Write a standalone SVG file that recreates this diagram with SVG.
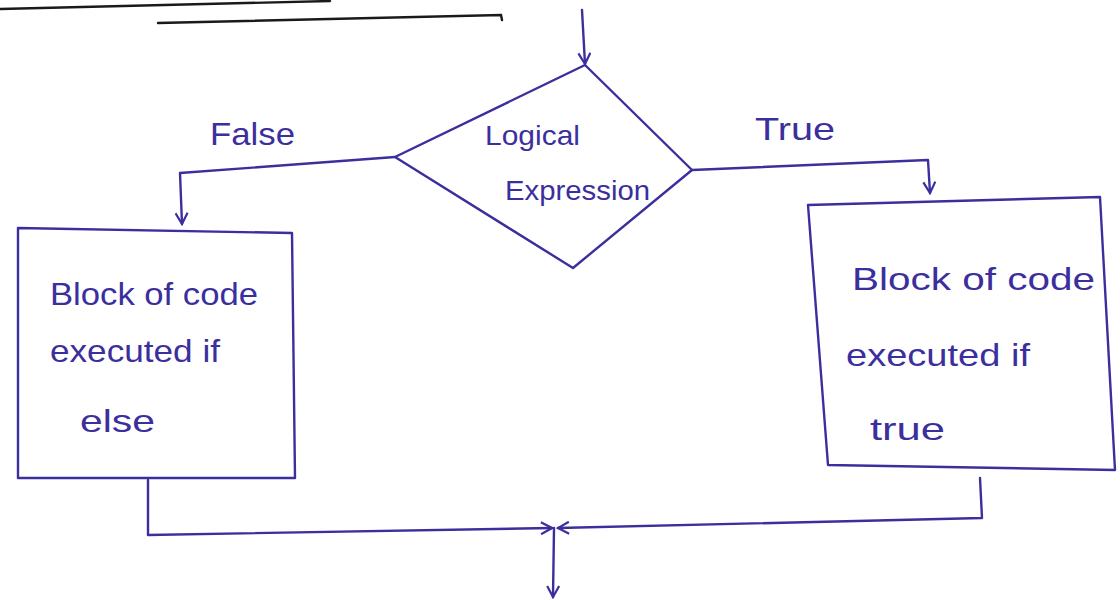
<svg xmlns="http://www.w3.org/2000/svg" width="1120" height="600" viewBox="0 0 1120 600">
<defs>
<style>
.ink{fill:none;stroke:#3b2f9e;stroke-width:2.4;stroke-linecap:round;stroke-linejoin:round}
.pen{fill:none;stroke:#1a1a1a;stroke-width:2.4;stroke-linecap:round}
.t{font-family:"Liberation Sans",Arial,sans-serif;font-size:32px;fill:#3b2f9e}
.ts{font-family:"Liberation Sans",Arial,sans-serif;font-size:28px;fill:#3b2f9e}
</style>
<marker id="ah" viewBox="0 0 14 14" refX="12" refY="7" markerWidth="14" markerHeight="14" markerUnits="userSpaceOnUse" orient="auto">
<path d="M1,1 L12,7 L1,13" fill="none" stroke="#3b2f9e" stroke-width="2.2"/>
</marker>
</defs>
<rect width="1120" height="600" fill="#ffffff"/>
<path class="pen" d="M0,9 L330,1"/>
<path class="pen" d="M158,23 L501,15 L502,20"/>
<g id="decision">
<path class="ink" d="M585,65 L692,170 L573,268 L395,157 Z"/>
<text class="ts" x="485" y="145" textLength="95" lengthAdjust="spacingAndGlyphs">Logical</text>
<text class="ts" x="505" y="200" textLength="145" lengthAdjust="spacingAndGlyphs">Expression</text>
</g>
<g id="else-block">
<path class="ink" d="M18,228 L292,233 L295,478 L18,478 Z"/>
<text class="t" x="50" y="305" textLength="208" lengthAdjust="spacingAndGlyphs">Block of code</text>
<text class="t" x="50" y="362" textLength="170" lengthAdjust="spacingAndGlyphs">executed if</text>
<text class="t" x="80" y="432" textLength="75" lengthAdjust="spacingAndGlyphs">else</text>
</g>
<g id="true-block">
<path class="ink" d="M808,205 L1100,197 L1115,470 L828,465 Z"/>
<text class="t" x="852" y="290" textLength="243" lengthAdjust="spacingAndGlyphs">Block of code</text>
<text class="t" x="846" y="366" textLength="184" lengthAdjust="spacingAndGlyphs">executed if</text>
<text class="t" x="870" y="440" textLength="75" lengthAdjust="spacingAndGlyphs">true</text>
</g>
<g id="connectors">
<path class="ink" d="M582,10 L585,64" marker-end="url(#ah)"/>
<path class="ink" d="M395,157 L180,173 L182,224" marker-end="url(#ah)"/>
<path class="ink" d="M692,170 L928,160 L930,193" marker-end="url(#ah)"/>
<path class="ink" d="M148,480 L148,535 L552,528" marker-end="url(#ah)"/>
<path class="ink" d="M980,478 L982,518 L558,528" marker-end="url(#ah)"/>
<path class="ink" d="M554,528 L553,597" marker-end="url(#ah)"/>
<text class="t" x="210" y="145" textLength="85" lengthAdjust="spacingAndGlyphs">False</text>
<text class="t" x="755" y="140" textLength="80" lengthAdjust="spacingAndGlyphs">True</text>
</g>
</svg>
